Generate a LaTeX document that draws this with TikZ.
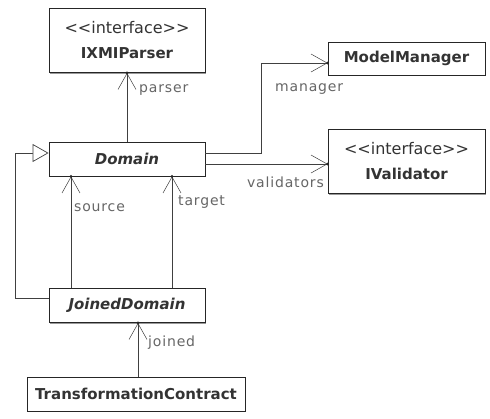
\documentclass[tikz,border=0pt]{standalone}
\usepackage{fontspec}
\setmainfont{DejaVu Sans}
\newfontfamily\lblfont[LetterSpace=6]{DejaVu Sans}
\usetikzlibrary{arrows.meta,shadows}

% stereotype guillemets written as plain angle brackets
\newcommand{\stereo}[1]{{\fontsize{16}{18}\selectfont<\kern0pt<#1>\kern0pt>}}

\begin{document}
\begin{tikzpicture}[x=1pt,y=-1pt,
  umlbox/.style={draw=black!85, line width=0.9pt, fill=white, inner sep=0pt,
    minimum width=156pt, minimum height=34pt, align=center,
    font=\fontsize{15}{18}\selectfont, text=black!80,
    drop shadow={shadow xshift=1.4pt, shadow yshift=-1.4pt, opacity=1, fill=black!40}},
  twoline/.style={minimum height=64pt},
  assoc/.style={draw=black!75, line width=0.8pt,
    -{Straight Barb[length=16pt,width=18pt,line width=0.5pt]}},
  gen/.style={draw=black!75, line width=0.8pt,
    -{Triangle[open,length=16pt,width=18pt,line width=0.7pt,fill=white]}},
  lbl/.style={font=\lblfont\fontsize{14}{16}\selectfont, text=black!60, inner sep=0pt},
  tipdot/.style={fill=black!85}]

\useasboundingbox[fill=white] (0,0) rectangle (490,418);

% classes
\node[umlbox,twoline] (ixmi) at (127,40.5) {\stereo{interface}\\[7pt]\textbf{IXMIParser}};
\node[umlbox] (dom) at (127,159) {\textbf{\textit{Domain}}};
\node[umlbox] (jd) at (127,305.5) {\textbf{\textit{JoinedDomain}}};
\node[umlbox,minimum width=218pt] (tc) at (136,394) {\textbf{TransformationContract}};
\node[umlbox,minimum width=157pt,minimum height=33pt] (mm) at (406.5,58.5) {\textbf{ModelManager}};
\node[umlbox,twoline,minimum width=157pt] (ival) at (406.5,161.5) {\stereo{interface}\\[7pt]\textbf{IValidator}};

% associations
\draw[assoc] (dom.north) -- (ixmi.south);
\fill[tipdot] (ixmi.south) circle (1.5);
\node[lbl,anchor=west] (lparser) at (139,90) {parser};

\draw[assoc] (jd.north -| 71,0) -- (dom.south -| 71,0);
\fill[tipdot] (dom.south -| 71,0) circle (1.5);
\node[lbl,anchor=west] (lsource) at (74,208) {source};

\draw[assoc] (jd.north -| 172,0) -- (dom.south -| 172,0);
\fill[tipdot] (dom.south -| 172,0) circle (1.5);
\node[lbl,anchor=west] (ltarget) at (178,202) {target};

\draw[assoc] (tc.north -| 138,0) -- (jd.south -| 138,0);
\fill[tipdot] (jd.south -| 138,0) circle (1.5);
\node[lbl,anchor=west] (ljoined) at (148,343) {joined};

\draw[assoc] (dom.east |- 0,153) -- (261,153) |- (mm.west |- 0,63);
\fill[tipdot] (mm.west |- 0,63) circle (1.5);
\node[lbl,anchor=west] (lmanager) at (275,89) {manager};

\draw[assoc] (dom.east |- 0,164) -- (ival.west |- 0,164);
\fill[tipdot] (ival.west |- 0,164) circle (1.5);
\node[lbl,anchor=east] (lvalid) at (324,182) {validators};

% generalization JoinedDomain -> Domain
\draw[gen] (jd.west |- 0,298) -- (15,298) |- (dom.west |- 0,153);
\end{tikzpicture}
\end{document}
